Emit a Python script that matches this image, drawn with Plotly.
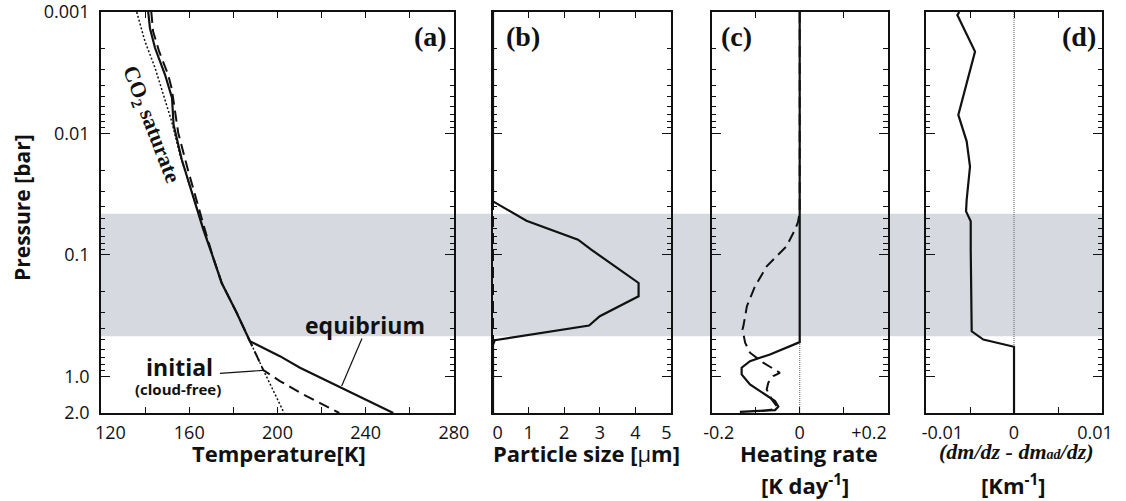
import plotly.graph_objects as go

# ---------------- data ----------------
# Panel (a): temperature profiles
T_equil = [141.4, 142.2, 144.5, 149.0, 152.2, 152.9, 156.6, 161.8, 166.4, 170.9, 174.7, 181.5, 187.5, 201.1, 210.2, 252.5]
p_equil = [0.001, 0.00136, 0.00198, 0.00327, 0.00509, 0.00849, 0.0164, 0.0330, 0.0619, 0.106, 0.170, 0.299, 0.513, 0.681, 0.847, 2.0]

T_init = [142.8, 143.6, 146.3, 150.4, 152.0, 154.0, 155.0, 159.4, 164.0, 167.1, 170.9, 174.7, 181.5, 187.5, 193.6, 201.1, 210.2, 228.0]
p_init = [0.001, 0.00144, 0.00210, 0.00327, 0.00422, 0.00743, 0.00986, 0.0199, 0.0398, 0.0619, 0.106, 0.170, 0.299, 0.513, 0.887, 1.091, 1.36, 2.0]

T_sat = [136.2, 139.9, 144.5, 148.2, 152.0, 155.8, 161.3, 166.2, 170.8, 174.8, 181.5, 187.5, 193.6, 202.6, 203.0]
p_sat = [0.001, 0.00174, 0.00288, 0.00479, 0.00791, 0.0150, 0.0308, 0.0596, 0.103, 0.169, 0.299, 0.513, 0.887, 1.93, 2.0]

# Panel (b): particle size [um]
size_eq = [0, 0, 0.94, 2.39, 2.76, 4.09, 4.09, 3.00, 2.70, 0.05, 0, 0]
p_size_eq = [0.001, 0.0362, 0.0522, 0.0748, 0.0904, 0.170, 0.219, 0.319, 0.381, 0.504, 0.55, 2.0]
size_init = [0, 0]
p_size_init = [0.001, 2.0]

# Panel (c): heating rate [K/day]
heat_eq = [0, 0, -0.0675, -0.113, -0.132, -0.132, -0.113, -0.0902, -0.0714, -0.0561, -0.0486, -0.0561, -0.136]
p_heat_eq = [0.001, 0.522, 0.659, 0.748, 0.847, 0.962, 1.164, 1.321, 1.452, 1.596, 1.774, 1.892, 1.959]
heat_init = [0, 0, -0.004, -0.0107, -0.030, -0.045, -0.075, -0.1016, -0.120, -0.128, -0.130, -0.124,
             -0.113, -0.083, -0.045, -0.060, -0.0714, -0.075, -0.0636, -0.0523, -0.060, -0.1016]
p_heat_init = [0.001, 0.0447, 0.0537, 0.0619, 0.0849, 0.0964, 0.124, 0.181, 0.264, 0.385, 0.411, 0.528,
               0.638, 0.771, 0.933, 0.993, 1.127, 1.279, 1.545, 1.754, 1.866, 1.959]

# Panel (d): dm/dz - dm_ad/dz [K/m]
dmdz = [-0.00622, -0.00644, -0.00443, -0.00633, -0.00538, -0.0050, -0.00538, -0.00545, -0.00492, -0.00492, -0.00481, -0.00349, 0, 0]
p_dmdz = [0.001, 0.00106, 0.00212, 0.00703, 0.0116, 0.0187, 0.0351, 0.0438, 0.0528, 0.0904, 0.425, 0.497, 0.570, 2.0]

# cloud layer (shaded band)
cloud_p = [0.0457, 0.467]

# ticks
NB = "\u00a0"
p_tickvals = [0.001, 0.01, 0.1, 1.0, 2.0]
p_ticktext = ["0.001", "0.01", "0.1", "1.0", "2.0"]
p_minor = [m * d for d in (0.001, 0.01, 0.1) for m in range(2, 10)]
T_tickvals = [120, 140, 160, 180, 200, 220, 240, 260, 280]
T_ticktext = [NB * 4 + "120", "", "160", "", "200", "", "240", "", "280"]
s_tickvals = [0, 1, 2, 3, 4, 5]
s_ticktext = [NB * 2 + "0", "1", "2", "3", "4", "5" + NB * 2]
h_tickvals = [-0.2, -0.1, 0, 0.1, 0.2]
h_ticktext = [NB * 3 + "-0.2", "", "0", "", "+0.2" + NB * 8]
d_tickvals = [-0.01, -0.005, 0, 0.005, 0.01]
d_ticktext = [NB * 7 + "-0.01", "", "0", "", "0.01" + NB * 3]

# ---------------- figure ----------------
SANS = "Open Sans"
SERIF = "Liberation Serif"
BLACK = "#111111"

fig = go.Figure()

def line(x, y, xa, ya, dash="solid", width=2.2, color=BLACK):
    fig.add_trace(go.Scatter(x=x, y=y, mode="lines", xaxis=xa, yaxis=ya,
                             line=dict(color=color, width=width, dash=dash),
                             showlegend=False, hoverinfo="skip"))

# zero reference lines (dotted, gray)
line([0, 0], [0.001, 2.0], "x3", "y3", dash="1px,1px", width=1.2, color="#777777")
line([0, 0], [0.001, 2.0], "x4", "y4", dash="1px,1px", width=1.2, color="#777777")

# panel a
line(T_sat, p_sat, "x", "y", dash="2px,2px", width=1.5)
line(T_init, p_init, "x", "y", dash="11px,6px", width=2)
line(T_equil, p_equil, "x", "y", width=2.2)
# panel b
line(size_init, p_size_init, "x2", "y2", dash="11px,6px", width=2)
line(size_eq, p_size_eq, "x2", "y2", width=2.2)
# panel c
line(heat_init, p_heat_init, "x3", "y3", dash="11px,6px", width=2)
line(heat_eq, p_heat_eq, "x3", "y3", width=2.2)
# panel d
line(dmdz, p_dmdz, "x4", "y4", width=2.2)

domains = [[0.0, 0.3526], [0.3916, 0.5694], [0.6101, 0.7859], [0.8242, 1.0]]
xranges = [[120, 280], [0, 5], [-0.2, 0.2], [-0.01, 0.01]]
xticks = [(T_tickvals, T_ticktext), (s_tickvals, s_ticktext), (h_tickvals, h_ticktext), (d_tickvals, d_ticktext)]

tickfont = dict(family=SANS, size=18, color=BLACK)
for i in range(4):
    sx = "" if i == 0 else str(i + 1)
    fig.layout["xaxis" + sx] = dict(
        domain=domains[i], range=xranges[i], anchor="y" + sx, automargin=False,
        tickmode="array", tickvals=xticks[i][0], ticktext=xticks[i][1],
        ticks="inside", ticklen=6, tickwidth=1.2, tickcolor=BLACK,
        showline=True, linecolor=BLACK, linewidth=1.6, mirror="ticks",
        showgrid=False, zeroline=False, tickfont=tickfont, ticklabelstandoff=3,
        ticklabeloverflow="allow",
    )
    fig.layout["yaxis" + sx] = dict(
        type="log", range=[0.30103, -3], anchor="x" + sx, automargin=False,
        tickmode="array", tickvals=p_tickvals, ticktext=p_ticktext,
        ticks="inside", ticklen=9, tickwidth=1.2, tickcolor=BLACK,
        minor=dict(tickmode="array", tickvals=p_minor, ticks="inside", ticklen=4.5,
                   tickwidth=1.0, tickcolor=BLACK, showgrid=False),
        showline=True, linecolor=BLACK, linewidth=1.6, mirror="ticks",
        showgrid=False, zeroline=False, tickfont=tickfont,
        showticklabels=(i == 0), ticklabelstandoff=6, ticklabeloverflow="allow",
    )
    if i > 0:
        fig.layout["yaxis" + sx]["matches"] = "y"

# cloud band across all panels
fig.add_shape(type="rect", xref="paper", yref="y", x0=0, x1=1, y0=cloud_p[0], y1=cloud_p[1],
              fillcolor="#d6d9df", line=dict(width=0), layer="below")

# leader lines
fig.add_shape(type="line", xref="x", yref="y", x0=173.9, y0=0.944, x1=193.4, y1=0.892,
              line=dict(color=BLACK, width=1.2))
fig.add_shape(type="line", xref="x", yref="y", x0=238.3, y0=0.488, x1=229.1, y1=1.20,
              line=dict(color=BLACK, width=1.2))

ann = []
def text(x, y, s, xref="paper", yref="paper", size=22, family=SANS, angle=0,
         xanchor="center", yanchor="middle"):
    ann.append(dict(x=x, y=y, xref=xref, yref=yref, text=s, showarrow=False,
                    font=dict(family=family, size=size, color=BLACK), textangle=angle,
                    xanchor=xanchor, yanchor=yanchor))

# panel labels
text(0.986, 0.938, "<b>(a)</b>", xref="x domain", family=SERIF, size=28, xanchor="right")
text(0.06, 0.938, "<b>(b)</b>", xref="x2 domain", family=SERIF, size=28, xanchor="left")
text(0.041, 0.938, "<b>(c)</b>", xref="x3 domain", family=SERIF, size=28, xanchor="left")
text(0.977, 0.938, "<b>(d)</b>", xref="x4 domain", family=SERIF, size=28, xanchor="right")

# curve labels (annotation y on log axis is log10 of pressure)
text(142.6, -2.071, "<b>CO<sub>2</sub> saturate</b>", xref="x", yref="y", family=SERIF, size=22, angle=68.9)
text(155.4, -0.074, "<b>initial</b>", xref="x", yref="y", size=23)
text(154.9, 0.107, "<b>(cloud-free)</b>", xref="x", yref="y", size=15)
text(239.9, -0.427, "<b>equibrium</b>", xref="x", yref="y", size=23)

# axis titles
def py(ypx):
    return (413 - ypx) / 401.0
def px(xpx):
    return (xpx - 101) / 1001.0

text(px(22), py(208), "<b>Pressure [bar]</b>", size=21, angle=-90)
text(px(279), py(453), "<b>Temperature[K]</b>", size=22)
text(px(586), py(453), "<b>Particle size [</b>\u03bc<b>m]</b>", size=22)
text(px(809), py(453), "<b>Heating rate</b>", size=22)
text(px(805), py(485), "<b>[K day<sup>-1</sup>]</b>", size=22)
text(px(1016), py(451), "<b><i>(dm/dz - dm<span style='font-size:14px'>ad</span>/dz)</i></b>", family=SERIF, size=22)
text(px(1013), py(485), "<b>[Km<sup>-1</sup>]</b>", size=22)

fig.update_layout(
    width=1126, height=501,
    margin=dict(l=101, r=24, t=12, b=88, autoexpand=False),
    paper_bgcolor="white", plot_bgcolor="rgba(0,0,0,0)",
    annotations=ann, showlegend=False,
)

fig.write_html("out.html", config={"displayModeBar": False},
               post_script="document.body.style.margin='0';")
